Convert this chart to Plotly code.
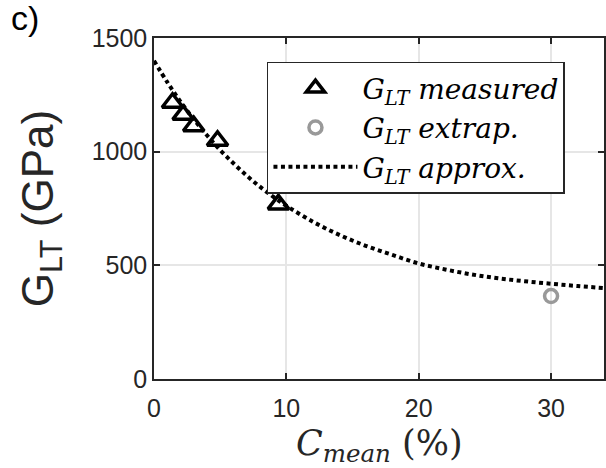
import plotly.graph_objects as go

# Measured shear modulus vs. mean concentration
c_measured = [1.4, 2.2, 3.0, 4.8, 9.4]
g_measured = [1215, 1162, 1112, 1048, 768]

# Extrapolated point
c_extrap = [30]
g_extrap = [365]

# Approximation curve
c_approx = [0, 1, 2, 3, 4, 5, 6, 7, 8, 9, 10, 12, 14, 16, 18, 20, 22, 24, 26, 28, 30, 32, 34]
g_approx = [1400, 1306, 1220, 1143, 1072, 1007, 949, 895, 846, 802, 762, 692, 634, 586,
            546, 508, 482, 460, 443, 430, 419, 409, 400]

x_ticks = [0, 10, 20, 30]
y_ticks = [0, 500, 1000, 1500]

AX = "#262626"
SERIF = "DejaVu Serif"
SANS = "Liberation Sans"

fig = go.Figure()

fig.add_trace(go.Scatter(
    x=c_measured, y=g_measured, mode="markers",
    name="<i>G<sub>LT</sub> measured</i>", legendgroup="m",
    marker=dict(symbol="triangle-up-open", size=18, color="black", line=dict(width=3.5, color="black")),
))
fig.add_trace(go.Scatter(
    x=c_extrap, y=g_extrap, mode="markers",
    name="<i>G<sub>LT</sub> extrap.</i>", legendgroup="e",
    marker=dict(symbol="circle-open", size=13, color="#999999", line=dict(width=3.5, color="#999999")),
))
fig.add_trace(go.Scatter(
    x=c_approx, y=g_approx, mode="lines", line_shape="spline",
    name="<i>G<sub>LT</sub> approx.</i>", legendgroup="a",
    line=dict(color="black", width=4, dash="4px,3.5px"),
))

axis_common = dict(
    showline=True, linecolor=AX, linewidth=1.5, mirror="ticks",
    ticks="inside", ticklen=6, tickwidth=1.5, tickcolor=AX,
    showgrid=True, gridcolor="#e6e6e6", gridwidth=1.5,
    zeroline=False,
    tickfont=dict(family=SANS, size=25, color=AX),
)

fig.update_xaxes(range=[0, 34], tickvals=x_ticks, ticklabelstandoff=6, **axis_common)
fig.update_yaxes(
    range=[0, 1500], tickvals=y_ticks,
    title=dict(text="G<sub>LT</sub> (GPa)", font=dict(family=SANS, size=44, color=AX), standoff=24),
    **axis_common,
)

# x-axis label, placed under the tick labels
fig.add_annotation(
    text="<i>C<sub>mean</sub></i> (%)", xref="paper", yref="paper", x=0.502, y=-0.196,
    xanchor="center", yanchor="middle", showarrow=False,
    font=dict(family=SERIF, size=35, color=AX),
)

fig.add_annotation(
    text="c)", xref="paper", yref="paper", x=-0.322, y=1.06,
    xanchor="left", yanchor="middle", showarrow=False,
    font=dict(family=SANS, size=34, color="black"),
)

fig.update_layout(
    width=606, height=468,
    margin=dict(l=154, r=2, t=38, b=89, autoexpand=False),
    paper_bgcolor="white", plot_bgcolor="white",
    showlegend=True,
    legend=dict(
        x=0.251, y=0.93, xanchor="left", yanchor="top",
        bgcolor="white", bordercolor=AX, borderwidth=1.5,
        font=dict(family=SERIF, size=28, color="black"),
        itemwidth=84, tracegroupgap=0,
    ),
)

fig.write_html("out.html")
